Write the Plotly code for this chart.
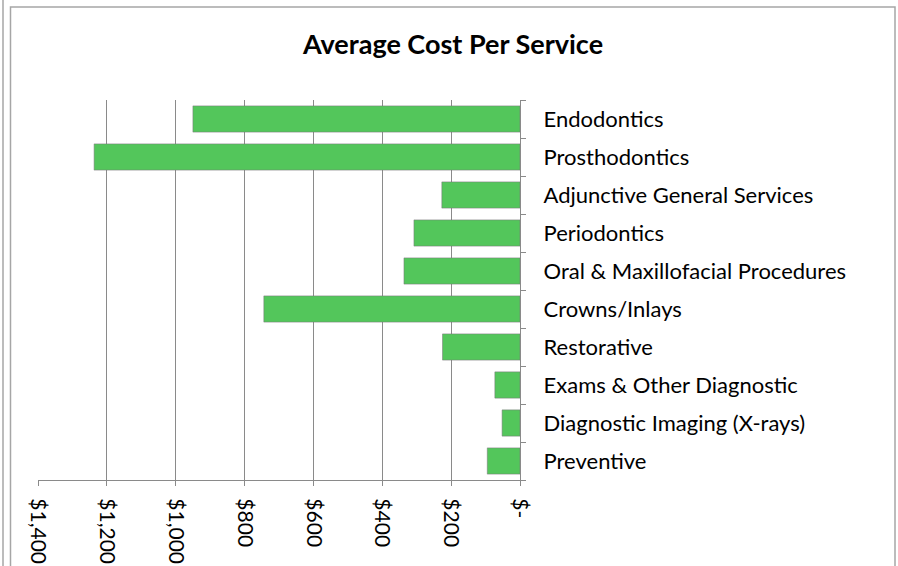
import plotly.graph_objects as go

# Dental service categories (top to bottom) and their average cost in dollars
services = [
    "Endodontics",
    "Prosthodontics",
    "Adjunctive General Services",
    "Periodontics",
    "Oral & Maxillofacial Procedures",
    "Crowns/Inlays",
    "Restorative",
    "Exams & Other Diagnostic",
    "Diagnostic Imaging (X-rays)",
    "Preventive",
]
avg_cost = [950, 1237, 227, 308, 337, 744, 225, 73, 52, 95]

tick_values = [0, 200, 400, 600, 800, 1000, 1200, 1400]
tick_labels = ["$-", "$200", "$400", "$600", "$800", "$1,000", "$1,200", "$1,400"]

W, H = 898, 566
L, R, T, B = 38, 520, 100, 480  # plot area in pixels

fig = go.Figure(
    go.Bar(
        y=services,
        x=avg_cost,
        orientation="h",
        marker=dict(color="#53C65B", line=dict(color="rgba(120,120,120,0.55)", width=1)),
    )
)

grid = "#8A8A8A"
font_family = "Lato, 'Open Sans', sans-serif"


def px_x(px):
    return (px - L) / (R - L)


def px_y(py):
    return (B - py) / (B - T)


fig.update_layout(
    width=W,
    height=H,
    margin=dict(l=L, r=W - R, t=T, b=H - B, autoexpand=False),
    paper_bgcolor="white",
    plot_bgcolor="white",
    showlegend=False,
    bargap=0.31,
    font=dict(family=font_family, size=22, color="#000000"),
    title=dict(
        text="<b>Average Cost Per Service</b>",
        x=453 / W,
        xref="container",
        xanchor="center",
        y=1 - 45 / H,
        yref="container",
        yanchor="middle",
        font=dict(family=font_family, size=27, color="#000000"),
    ),
    xaxis=dict(
        range=[1400, 0],
        tickvals=tick_values,
        ticktext=tick_labels,
        tickangle=90,
        automargin=False,
        showgrid=True,
        gridcolor=grid,
        gridwidth=1.3,
        zeroline=False,
        showline=True,
        linecolor=grid,
        linewidth=1.3,
        ticks="outside",
        ticklen=5,
        tickcolor=grid,
        ticklabelstandoff=8,
        tickfont=dict(family=font_family, size=21),
    ),
    yaxis=dict(
        categoryorder="array",
        categoryarray=services[::-1],
        side="right",
        automargin=False,
        showgrid=False,
        showline=True,
        linecolor=grid,
        linewidth=1.3,
        ticks="outside",
        tickson="boundaries",
        ticklen=5,
        tickcolor=grid,
        ticklabelstandoff=18,
        tickfont=dict(family=font_family, size=22),
    ),
    shapes=[
        # outer chart frame
        dict(
            type="rect", xref="paper", yref="paper",
            x0=px_x(10.5), x1=px_x(895), y0=px_y(7), y1=px_y(580),
            line=dict(color="#A6A6A6", width=1.5), layer="below",
        ),
        dict(
            type="line", xref="paper", yref="paper",
            x0=px_x(3), x1=px_x(3), y0=px_y(0), y1=px_y(580),
            line=dict(color="#A6A6A6", width=1.5),
        ),
    ],
)

fig.write_html("out.html")
